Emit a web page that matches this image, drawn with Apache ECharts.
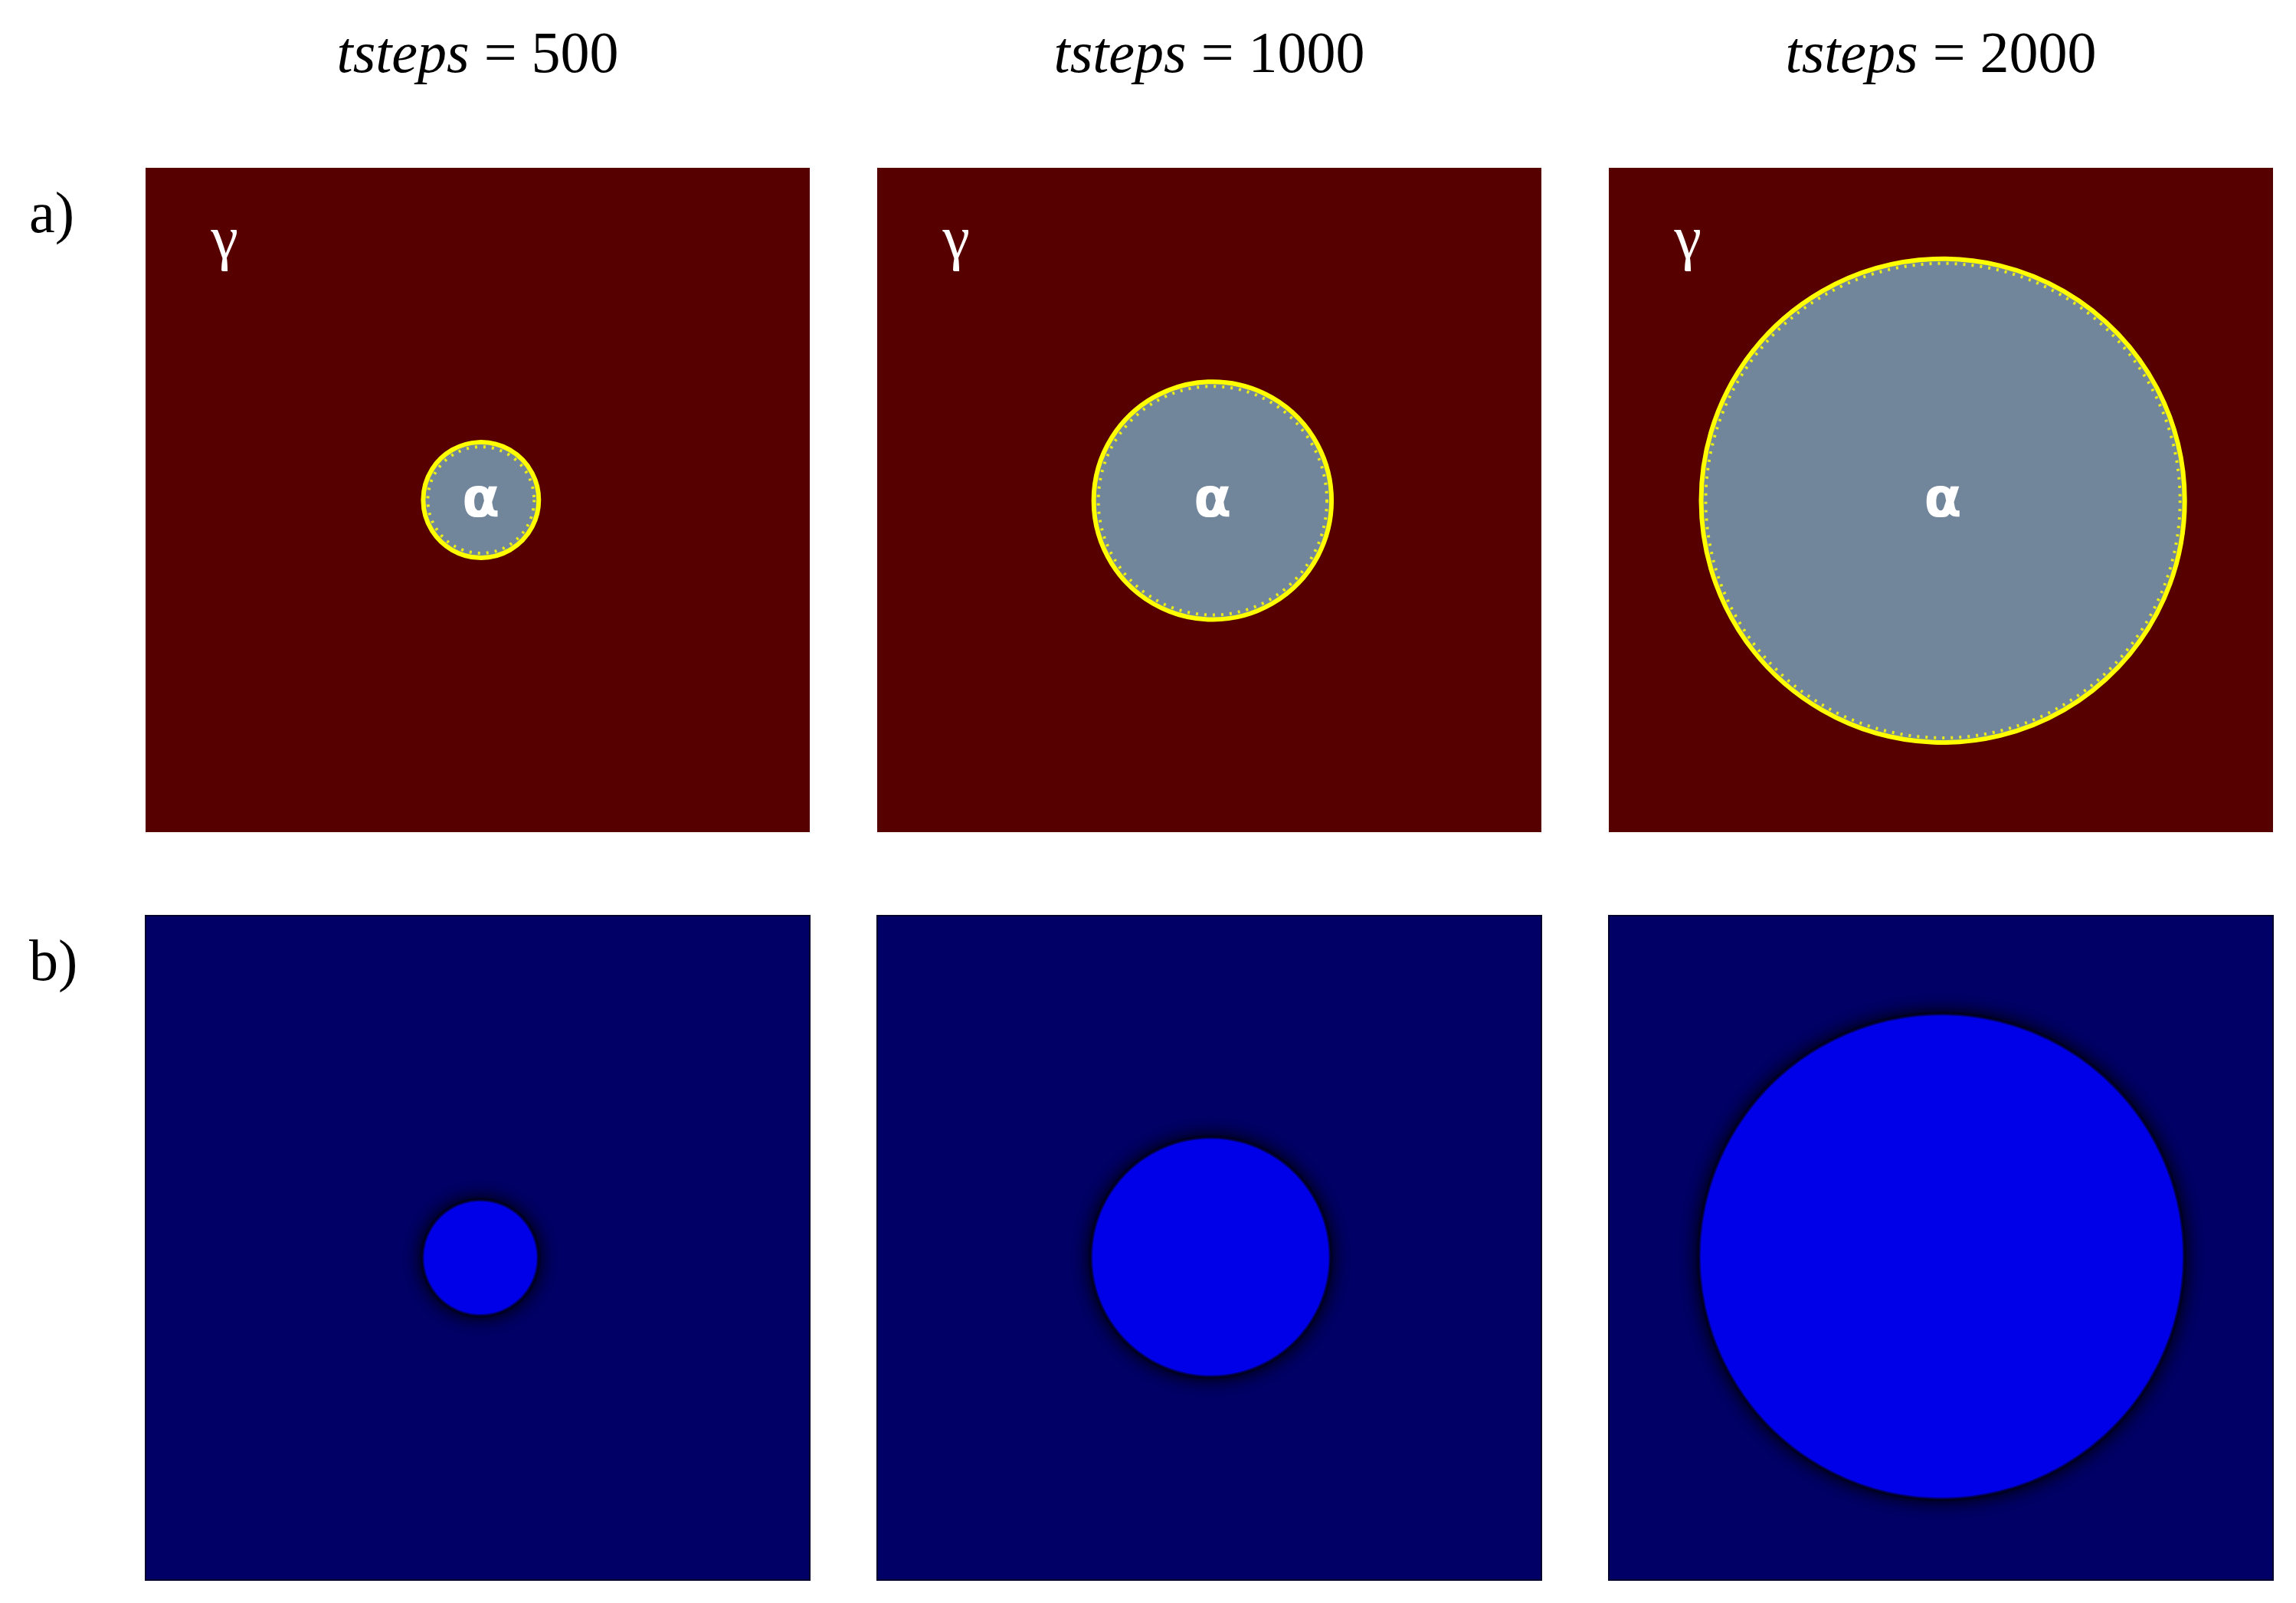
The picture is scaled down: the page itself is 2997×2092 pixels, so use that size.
<!DOCTYPE html>
<html>
<head>
<meta charset="utf-8">
<script src="https://cdn.jsdelivr.net/npm/echarts@6/dist/echarts.min.js"></script>
<style>
html,body{margin:0;padding:0;background:#fff;}
#main{width:2997px;height:2092px;}
</style>
</head>
<body>
<div id="main"></div>
<script>
// ---- data (domain units 0..100 per panel) ----
const tsteps = [500, 1000, 2000];
const alphaCenterX = [50.5, 50.5, 50.3];
const alphaCenterY = [50.0, 49.9, 49.9];
const alphaRadius = [8.7, 17.9, 36.4];
const fieldCenterX = [50.4, 50.2, 50.1];
const fieldCenterY = [48.5, 48.6, 48.7];
const fieldRadius = [8.6, 17.9, 36.4];
const gammaPos = [11.9, 89.5];
const rowLabels = ['a)', 'b)'];
const phaseLabels = ['γ', 'α'];

// ---- layout ----
const panelLeft = [190, 1145, 2100];
const panelSize = 867;
const rowTop = [219, 1195];

const chart = echarts.init(document.getElementById('main'), null, {renderer: 'svg'});

const grids = [], xAxes = [], yAxes = [], series = [];
const colors = {
  gamma: '#570000', alpha: '#71869a', ring: '#ffff00',
  fieldBg: '#000066', fieldIn: '#0000e8'
};

for (let r = 0; r < 2; r++) {
  for (let c = 0; c < 3; c++) {
    const gi = r * 3 + c;
    grids.push({
      left: panelLeft[c], top: rowTop[r], width: panelSize, height: panelSize,
      show: true,
      backgroundColor: r === 0 ? colors.gamma : colors.fieldBg,
      borderWidth: r === 0 ? 0 : 2,
      borderColor: '#00002a'
    });
    xAxes.push({type: 'value', gridIndex: gi, min: 0, max: 100, show: false});
    yAxes.push({type: 'value', gridIndex: gi, min: 0, max: 100, show: false});
    if (r === 0) {
      series.push({
        type: 'custom', xAxisIndex: gi, yAxisIndex: gi, silent: true,
        data: [[alphaCenterX[c], alphaCenterY[c], alphaRadius[c]]],
        renderItem: function (params, api) {
          const p = api.coord([api.value(0), api.value(1)]);
          const rad = api.size([api.value(2), api.value(2)])[0];
          return {
            type: 'group',
            children: [
              {type: 'circle', shape: {cx: p[0], cy: p[1], r: rad},
               style: {fill: colors.alpha, stroke: colors.ring, lineWidth: 6}},
              {type: 'circle', shape: {cx: p[0], cy: p[1], r: rad - 6},
               style: {fill: 'none', stroke: colors.ring, lineWidth: 4, lineDash: [3, 8], opacity: 0.85}},
              {type: 'text', style: {text: phaseLabels[1], x: p[0], y: p[1] - 4,
               align: 'center', verticalAlign: 'middle', fill: '#ffffff',
               font: 'bold 72px "DejaVu Sans"'}}
            ]
          };
        }
      });
      series.push({
        type: 'custom', xAxisIndex: gi, yAxisIndex: gi, silent: true,
        data: [[gammaPos[0], gammaPos[1]]],
        renderItem: function (params, api) {
          const p = api.coord([api.value(0), api.value(1)]);
          return {type: 'text', style: {text: phaseLabels[0], x: p[0], y: p[1],
            align: 'center', verticalAlign: 'middle', fill: '#ffffff',
            font: '80px "Liberation Serif"'}};
        }
      });
    } else {
      series.push({
        type: 'custom', xAxisIndex: gi, yAxisIndex: gi, silent: true,
        data: [[fieldCenterX[c], fieldCenterY[c], fieldRadius[c]]],
        renderItem: function (params, api) {
          const p = api.coord([api.value(0), api.value(1)]);
          const rad = api.size([api.value(2), api.value(2)])[0];
          return {
            type: 'group',
            children: [
              {type: 'circle', shape: {cx: p[0], cy: p[1], r: rad + 4},
               style: {fill: '#000020', shadowBlur: 24, shadowColor: 'rgba(0,0,10,1)'}},
              {type: 'circle', shape: {cx: p[0], cy: p[1], r: rad},
               style: {fill: colors.fieldIn, stroke: 'rgba(0,0,110,0.8)', lineWidth: 2}}
            ]
          };
        }
      });
    }
  }
}

const graphics = [];
for (let c = 0; c < 3; c++) {
  graphics.push({
    type: 'text', silent: true,
    x: panelLeft[c] + panelSize / 2, y: 68,
    style: {
      text: '{i|tsteps} = ' + tsteps[c],
      x: 0, y: 0,
      align: 'center', verticalAlign: 'middle',
      fill: '#000', font: '76px "Liberation Serif"',
      rich: {i: {fontStyle: 'italic', fontSize: 76, fontFamily: 'Liberation Serif', fill: '#000'}}
    }
  });
}
for (let r = 0; r < 2; r++) {
  graphics.push({
    type: 'text', silent: true,
    x: 38, y: rowTop[r] + 58,
    style: {text: rowLabels[r], x: 0, y: 0, align: 'left', verticalAlign: 'middle',
      fill: '#000', font: '76px "Liberation Serif"'}
  });
}

chart.setOption({
  animation: false,
  backgroundColor: '#ffffff',
  grid: grids,
  xAxis: xAxes,
  yAxis: yAxes,
  series: series,
  graphic: graphics
});
</script>
</body>
</html>
